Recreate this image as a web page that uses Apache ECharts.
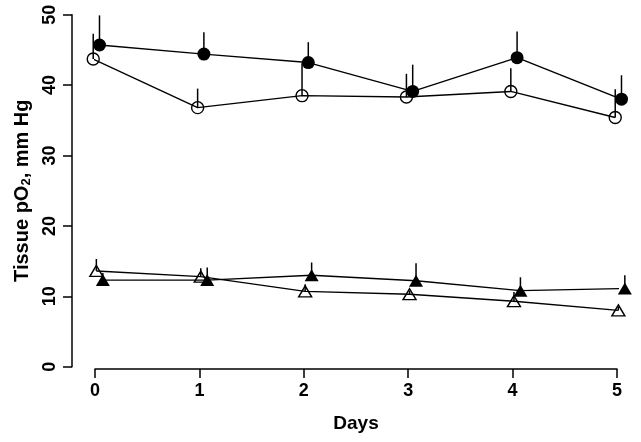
<!DOCTYPE html>
<html>
<head>
<meta charset="utf-8">
<script src="https://cdn.jsdelivr.net/npm/echarts@6/dist/echarts.min.js"></script>
<style>
html,body{margin:0;padding:0;background:#fff;}
#chart{width:641px;height:442px;}
</style>
</head>
<body>
<div id="chart"></div>
<script>
// ---- data ----
const days = [0, 1, 2, 3, 4, 5];
const xTicks = [0, 1, 2, 3, 4, 5];
const yTicks = [0, 10, 20, 30, 40, 50];

const openCircle       = [43.7, 36.8, 38.5, 38.3, 39.1, 35.4];
const openCircleErr    = [3.6, 2.7, 4.6, 3.3, 3.3, 4.0];
const filledCircle     = [45.7, 44.4, 43.2, 39.1, 43.9, 38.0];
const filledCircleErr  = [4.2, 3.1, 2.9, 3.8, 3.7, 3.4];
const openTriangle     = [13.6, 12.8, 10.7, 10.3, 9.3, 8.0];
const openTriangleErr  = [1.7, 1.2, 1.0, 0.5, 1.3, 0.5];
const filledTriangle   = [12.3, 12.3, 13.0, 12.2, 10.8, 11.1];
const filledTriangleErr= [1.0, 1.8, 1.8, 2.5, 1.9, 1.9];

// horizontal jitter (in days) used in the original plot to separate groups
const jitter = {openCircle: -0.017, filledCircle: 0.043, openTriangle: 0.013, filledTriangle: 0.075};

function pts(vals, dx) { return days.map((d, i) => [d + dx, vals[i]]); }
function errPts(vals, errs, dx) { return days.map((d, i) => [d + dx, vals[i], vals[i] + errs[i]]); }

const INK = '#000';

function errSeries(vals, errs, dx) {
  return {
    type: 'custom',
    data: errPts(vals, errs, dx),
    z: 1,
    silent: true,
    renderItem: function (params, api) {
      const p0 = api.coord([api.value(0), api.value(1)]);
      const p1 = api.coord([api.value(0), api.value(2)]);
      return {
        type: 'line',
        shape: {x1: p0[0], y1: p0[1], x2: p1[0], y2: p1[1]},
        style: {stroke: INK, lineWidth: 1.5}
      };
    }
  };
}

function lineSeries(vals, dx, symbol, size, filled, z) {
  return {
    type: 'line',
    data: pts(vals, dx),
    symbol: symbol,
    symbolSize: size,
    showAllSymbol: true,
    clip: false,
    z: z,
    lineStyle: {color: INK, width: 1.4},
    itemStyle: filled
      ? {color: INK, borderColor: INK, borderWidth: 0}
      : {color: 'rgba(0,0,0,0)', borderColor: INK, borderWidth: 1.4},
    emphasis: {disabled: true},
    animation: false
  };
}

const chart = echarts.init(document.getElementById('chart'));
chart.setOption({
  backgroundColor: '#fff',
  animation: false,
  grid: {left: 95, right: 24, top: 14.7, bottom: 75.3, containLabel: false},
  xAxis: {
    type: 'value', min: 0, max: 5, interval: 1,
    offset: 2.3,
    name: 'Days', nameLocation: 'middle', nameGap: 45,
    nameTextStyle: {fontFamily: 'Liberation Sans', fontWeight: 'bold', fontSize: 19, color: INK},
    axisLine: {show: true, onZero: false, lineStyle: {color: INK, width: 1.5}},
    axisTick: {show: true, length: 9, lineStyle: {color: INK, width: 1.5}},
    axisLabel: {fontFamily: 'Liberation Sans', fontWeight: 'bold', fontSize: 18, color: INK, margin: 13,
      formatter: v => xTicks.includes(v) ? String(v) : ''},
    splitLine: {show: false}
  },
  yAxis: {
    type: 'value', min: 0, max: 50, interval: 10,
    offset: 23,
    name: '{t|Tissue pO}{s|2}{t|, mm Hg}', nameLocation: 'middle', nameGap: 37, nameRotate: 90,
    nameTextStyle: {fontFamily: 'Liberation Sans', fontWeight: 'bold', fontSize: 20, color: INK,
      rich: {
        t: {fontFamily: 'Liberation Sans', fontWeight: 'bold', fontSize: 20, color: INK},
        s: {fontFamily: 'Liberation Sans', fontWeight: 'bold', fontSize: 13, color: INK, verticalAlign: 'bottom', padding: [8, 0, 0, 0]}
      }},
    axisLine: {show: true, onZero: false, lineStyle: {color: INK, width: 1.5}},
    axisTick: {show: true, length: 9, lineStyle: {color: INK, width: 1.5}},
    axisLabel: {fontFamily: 'Liberation Sans', fontWeight: 'bold', fontSize: 18, color: INK, margin: 13, rotate: 90,
      formatter: v => yTicks.includes(v) ? String(v) : ''},
    splitLine: {show: false}
  },
  series: [
    errSeries(openCircle, openCircleErr, jitter.openCircle),
    errSeries(filledCircle, filledCircleErr, jitter.filledCircle),
    errSeries(openTriangle, openTriangleErr, jitter.openTriangle),
    errSeries(filledTriangle, filledTriangleErr, jitter.filledTriangle),
    lineSeries(openCircle, jitter.openCircle, 'circle', 12, false, 3),
    lineSeries(filledCircle, jitter.filledCircle, 'circle', 13, true, 4),
    lineSeries(openTriangle, jitter.openTriangle, 'triangle', [13, 11], false, 3),
    lineSeries(filledTriangle, jitter.filledTriangle, 'triangle', [14, 12], true, 4)
  ]
});
</script>
</body>
</html>
